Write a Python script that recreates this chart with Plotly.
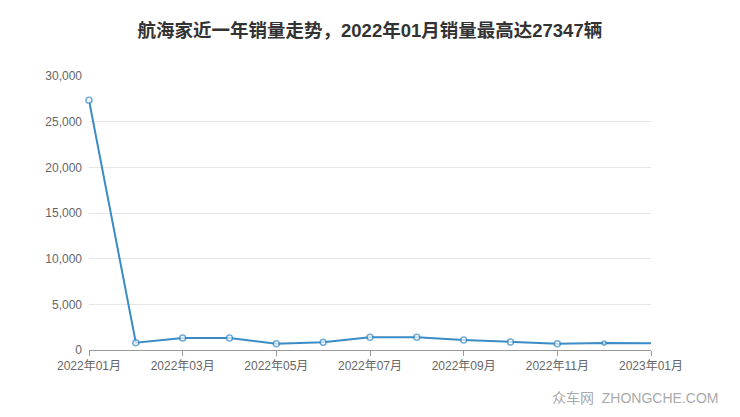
import plotly.graph_objects as go

months = ["2022年01月", "2022年02月", "2022年03月", "2022年04月", "2022年05月", "2022年06月",
          "2022年07月", "2022年08月", "2022年09月", "2022年10月", "2022年11月", "2022年12月",
          "2023年01月"]
sales = [27347, 800, 1314, 1314, 690, 840, 1390, 1390, 1095, 876, 690, 770, 730]
x_tick_labels = months[::2]
y_ticks = [0, 5000, 10000, 15000, 20000, 25000, 30000]
y_tick_labels = ["0", "5,000", "10,000", "15,000", "20,000", "25,000", "30,000"]

title_text = "航海家近一年销量走势，2022年01月销量最高达27347辆"
watermark = "众车网  ZHONGCHE.COM"

FONT = "Liberation Sans, Arial, Noto Sans CJK SC, sans-serif"
LINE = "#3a8cc6"

marker_sizes = [6] * (len(sales) - 2) + [4, 0]

fig = go.Figure()
fig.add_trace(go.Scatter(
    x=months, y=sales, mode="lines+markers",
    line=dict(color=LINE, width=2),
    marker=dict(size=marker_sizes, color="white", line=dict(color=LINE, width=1.6)),
    hoverinfo="x+y", showlegend=False, cliponaxis=False,
))

fig.update_layout(
    width=740, height=417,
    margin=dict(l=81, r=97, t=68, b=75),
    paper_bgcolor="white", plot_bgcolor="white",
    font=dict(family=FONT, size=12, color="#666666"),
    title=dict(text=title_text, x=0.489, xanchor="center", y=0.947, yanchor="middle",
               font=dict(family=FONT, size=18.5, color="#333333", weight="bold")),
    xaxis=dict(
        type="category", range=[0, len(months) - 1],
        tickmode="array", tickvals=x_tick_labels, ticktext=x_tick_labels,
        showgrid=False, showline=True, linecolor="#999999", linewidth=1,
        ticks="outside", ticklen=5, tickcolor="#999999",
        tickfont=dict(size=12, color="#666666"), zeroline=False,
    ),
    yaxis=dict(
        range=[0, 30000], tickvals=y_ticks, ticktext=y_tick_labels,
        showgrid=True, gridcolor="#e6e6e6", gridwidth=1, zeroline=False,
        showline=False, ticks="", ticklabelstandoff=6,
        tickfont=dict(size=12, color="#666666"),
    ),
    annotations=[dict(
        text=watermark, xref="paper", yref="paper", x=1.0, y=-0.175,
        xshift=69, xanchor="right", yanchor="middle", showarrow=False,
        font=dict(family=FONT, size=14, color="#aaaaaa"),
    )],
)

fig.write_html("out.html")
